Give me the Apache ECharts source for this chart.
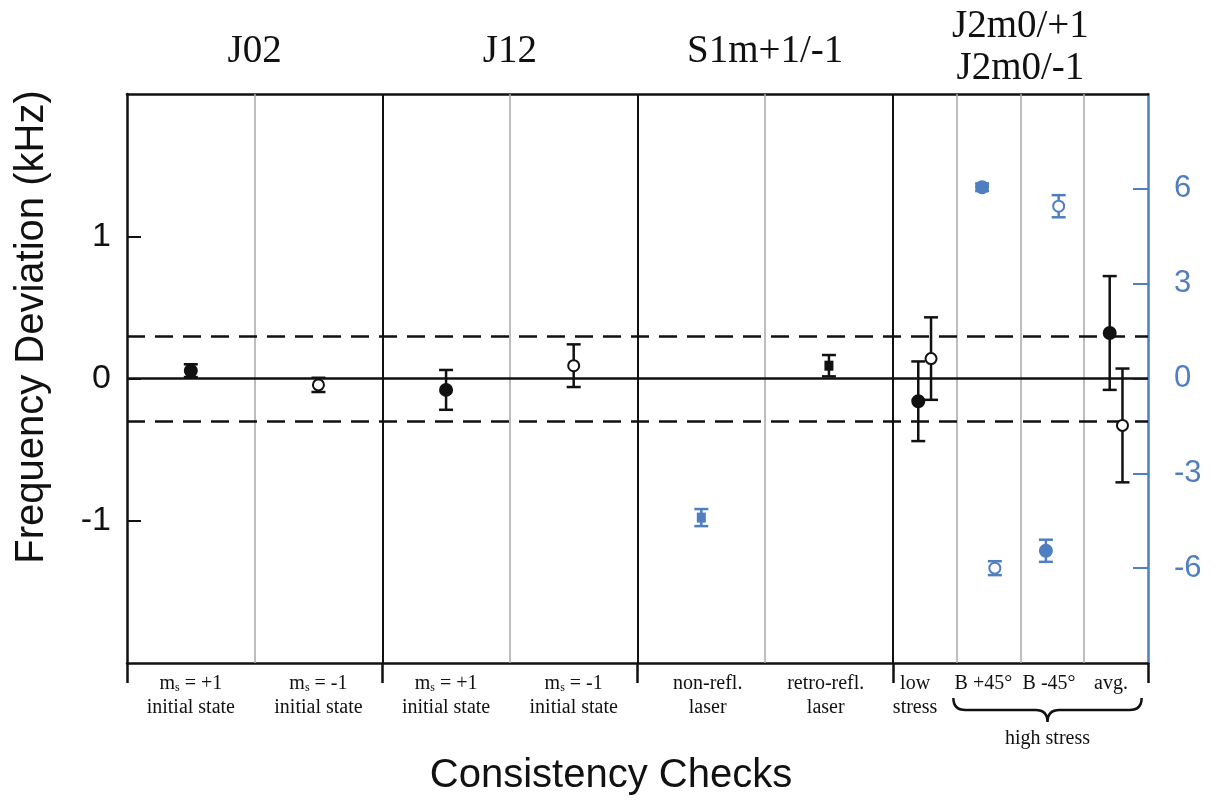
<!DOCTYPE html>
<html>
<head>
<meta charset="utf-8">
<script src="https://cdn.jsdelivr.net/npm/echarts@6/dist/echarts.min.js"></script>
<style>
  html, body { margin: 0; padding: 0; background: #fff; }
  #chart { width: 1217px; height: 803px; }
</style>
</head>
<body>
<div id="chart"></div>
<script>
// Group headings above the plot and the x-scale centre of each group
const sectionTitles = [['J02'], ['J12'], ['S1m+1/-1'], ['J2m0/+1', 'J2m0/-1']];
const sectionCenters = [2, 6, 10, 14];
// Heavy separators between groups, thin separators between individual checks
const sectionBounds = [4, 8, 12];
const subBounds = [2, 6, 10, 13, 14, 15];

// Tick values shown on the two vertical scales
const leftTicks = [-1, 0, 1];
const rightTicks = [-6, -3, 0, 3, 6];

// Check names under the axis: [x, first line, second line]
const checkLabels = [
  [1, 'm{s|s} = +1', 'initial state'],
  [3, 'm{s|s} = -1', 'initial state'],
  [5, 'm{s|s} = +1', 'initial state'],
  [7, 'm{s|s} = -1', 'initial state'],
  [9.1, 'non-refl.', 'laser'],
  [10.95, 'retro-refl.', 'laser'],
  [12.35, 'low', 'stress'],
  [13.42, 'B +45°', ''],
  [14.45, 'B -45°', ''],
  [15.42, 'avg.', '']
];
const braceSpan = [12.95, 15.9];
const braceLabel = 'high stress';

// Deviations read on the left (kHz) scale: [x, value, error, filled, square]
const kHzPoints = [
  [1, 0.055, 0.045, 1, 0],
  [3, -0.045, 0.05, 0, 0],
  [5, -0.08, 0.14, 1, 0],
  [7, 0.09, 0.15, 0, 0],
  [11, 0.09, 0.075, 1, 1],
  [12.4, -0.16, 0.28, 1, 0],
  [12.6, 0.14, 0.29, 0, 0],
  [15.4, 0.32, 0.40, 1, 0],
  [15.6, -0.33, 0.40, 0, 0]
];
// Deviations read on the right-hand scale
const rightPoints = [
  [9, -4.4, 0.27, 1, 1],
  [13.4, 6.05, 0.12, 1, 0],
  [13.6, -6.0, 0.22, 0, 0],
  [14.4, -5.45, 0.35, 1, 0],
  [14.6, 5.45, 0.35, 0, 0]
];
const toleranceBand = 0.3;

const BLUE = '#4f7fc0';
const INK = '#111';
const SANS = '"Liberation Sans", Arial, sans-serif';
const SERIF = '"Liberation Serif", "Times New Roman", serif';

function errorBarItem(color) {
  return function (params, api) {
    const x = api.value(0), y = api.value(1), e = api.value(2);
    const filled = api.value(3) === 1, square = api.value(4) === 1;
    const c = api.coord([x, y]);
    const t = api.coord([x, y + e]);
    const b = api.coord([x, y - e]);
    const w = 7;
    const ls = { stroke: color, lineWidth: 2.5 };
    const children = [
      { type: 'line', shape: { x1: c[0], y1: t[1], x2: c[0], y2: b[1] }, style: ls },
      { type: 'line', shape: { x1: c[0] - w, y1: t[1], x2: c[0] + w, y2: t[1] }, style: ls },
      { type: 'line', shape: { x1: c[0] - w, y1: b[1], x2: c[0] + w, y2: b[1] }, style: ls }
    ];
    if (square) {
      children.push({ type: 'rect', shape: { x: c[0] - 4.5, y: c[1] - 5, width: 9, height: 10 },
        style: { fill: color } });
    } else {
      children.push({ type: 'circle', shape: { cx: c[0], cy: c[1], r: filled ? 6 : 5.5 },
        style: { fill: filled ? color : '#fff', stroke: color, lineWidth: 2 } });
    }
    return { type: 'group', children };
  };
}

const chart = echarts.init(document.getElementById('chart'));

const lineMarks = [];
sectionBounds.forEach(v => lineMarks.push({ xAxis: v, lineStyle: { color: INK, width: 2, type: 'solid' } }));
subBounds.forEach(v => lineMarks.push({ xAxis: v, lineStyle: { color: '#a8a8a8', width: 1.5, type: 'solid' } }));
lineMarks.push({ yAxis: 0, lineStyle: { color: INK, width: 2.5, type: 'solid' } });
lineMarks.push({ yAxis: toleranceBand, lineStyle: { color: INK, width: 2.5, type: [18, 10] } });
lineMarks.push({ yAxis: -toleranceBand, lineStyle: { color: INK, width: 2.5, type: [18, 10] } });

chart.setOption({
  animation: false,
  backgroundColor: '#fff',
  grid: { left: 127, right: 69, top: 94, bottom: 140, containLabel: false },
  xAxis: [
    {
      type: 'value', min: 0, max: 16, interval: 4, position: 'bottom',
      axisLine: { show: true, onZero: false, lineStyle: { color: INK, width: 2.5 } },
      axisTick: { show: true, inside: false, length: 20, lineStyle: { color: INK, width: 2.5 } },
      axisLabel: { show: false },
      splitLine: { show: false }
    },
    {
      type: 'value', min: 0, max: 16, position: 'top',
      axisLine: { show: true, onZero: false, lineStyle: { color: INK, width: 2.5 } },
      axisTick: { show: false }, axisLabel: { show: false }, splitLine: { show: false }
    }
  ],
  yAxis: [
    {
      type: 'value', min: -2, max: 2, interval: 1, position: 'left',
      axisLine: { show: true, onZero: false, lineStyle: { color: INK, width: 2.5 } },
      axisTick: { show: true, inside: true, length: 14, customValues: leftTicks,
        lineStyle: { color: INK, width: 2 } },
      axisLabel: {
        margin: 16, fontSize: 34, color: INK, fontFamily: SANS, customValues: leftTicks,
        formatter: v => (Math.abs(v) === 2 ? '' : String(v))
      },
      splitLine: { show: false }
    },
    {
      type: 'value', min: -9, max: 9, interval: 3, position: 'right',
      axisLine: { show: true, onZero: false, lineStyle: { color: BLUE, width: 2.5 } },
      axisTick: { show: true, inside: true, length: 15, customValues: rightTicks,
        lineStyle: { color: BLUE, width: 2 } },
      axisLabel: {
        margin: 26, fontSize: 31, color: BLUE, fontFamily: SANS, customValues: rightTicks,
        formatter: v => (Math.abs(v) === 9 ? '' : String(v))
      },
      splitLine: { show: false }
    }
  ],
  graphic: [
    {
      type: 'text', x: 32, y: 327, rotation: Math.PI / 2,
      style: { text: 'Frequency Deviation (kHz)', fontSize: 40, fontFamily: SANS, fill: INK,
        align: 'center', verticalAlign: 'middle' }
    },
    {
      type: 'text', x: 611, y: 776,
      style: { text: 'Consistency Checks', fontSize: 40, fontFamily: SANS, fill: INK,
        align: 'center', verticalAlign: 'middle' }
    }
  ],
  series: [
    {
      type: 'line', xAxisIndex: 0, yAxisIndex: 0, data: [[0, 0]], symbol: 'none',
      lineStyle: { opacity: 0 }, silent: true, z: 1,
      markLine: { silent: true, symbol: 'none', label: { show: false }, data: lineMarks }
    },
    {
      type: 'custom', xAxisIndex: 0, yAxisIndex: 0, z: 5, clip: false,
      data: kHzPoints, encode: { x: 0, y: 1 },
      renderItem: errorBarItem(INK)
    },
    {
      type: 'custom', xAxisIndex: 0, yAxisIndex: 1, z: 5, clip: false,
      data: rightPoints, encode: { x: 0, y: 1 },
      renderItem: errorBarItem(BLUE)
    },
    {
      // group headings above the frame
      type: 'custom', xAxisIndex: 0, yAxisIndex: 0, clip: false, silent: true,
      data: sectionCenters.map(c => [c, 2]),
      renderItem: function (params, api) {
        const p = api.coord([api.value(0), api.value(1)]);
        const lines = sectionTitles[params.dataIndex];
        const offsets = lines.length === 1 ? [-42] : [-67, -25];
        return {
          type: 'group',
          children: lines.map((txt, i) => ({
            type: 'text', x: p[0], y: p[1] + offsets[i],
            style: { text: txt, fontSize: 39, fontFamily: SERIF, fill: INK,
              align: 'center', verticalAlign: 'middle' }
          }))
        };
      }
    },
    {
      // check names below the axis
      type: 'custom', xAxisIndex: 0, yAxisIndex: 0, clip: false, silent: true,
      data: checkLabels.map(l => [l[0], -2]),
      renderItem: function (params, api) {
        const p = api.coord([api.value(0), api.value(1)]);
        const lab = checkLabels[params.dataIndex];
        const rich = {
          s: { fontSize: 12, fontFamily: SERIF, fill: INK, verticalAlign: 'bottom', padding: [6, 0, 0, 0] }
        };
        const children = [
          { type: 'text', x: p[0], y: p[1] + 21,
            style: { text: lab[1], rich, fontSize: 20, fontFamily: SERIF, fill: INK,
              align: 'center', verticalAlign: 'middle' } }
        ];
        if (lab[2]) {
          children.push({ type: 'text', x: p[0], y: p[1] + 45,
            style: { text: lab[2], fontSize: 20, fontFamily: SERIF, fill: INK,
              align: 'center', verticalAlign: 'middle' } });
        }
        return { type: 'group', children };
      }
    },
    {
      // curly brace grouping the high-stress checks
      type: 'custom', xAxisIndex: 0, yAxisIndex: 0, clip: false, silent: true,
      data: [[braceSpan[0], -2, braceSpan[1]]],
      renderItem: function (params, api) {
        const a = api.coord([api.value(0), api.value(1)]);
        const b = api.coord([api.value(2), api.value(1)]);
        const x0 = a[0], x1 = b[0], xc = (x0 + x1) / 2;
        const y0 = a[1] + 35, y1 = a[1] + 47, y2 = a[1] + 59, r = 12;
        const d = `M${x0} ${y0} Q${x0} ${y1} ${x0 + r} ${y1} L${xc - r} ${y1} Q${xc} ${y1} ${xc} ${y2} ` +
                  `Q${xc} ${y1} ${xc + r} ${y1} L${x1 - r} ${y1} Q${x1} ${y1} ${x1} ${y0}`;
        return {
          type: 'group',
          children: [
            { type: 'path', shape: { pathData: d }, style: { fill: 'none', stroke: INK, lineWidth: 2.5 } },
            { type: 'text', x: xc, y: a[1] + 76,
              style: { text: braceLabel, fontSize: 20, fontFamily: SERIF, fill: INK,
                align: 'center', verticalAlign: 'middle' } }
          ]
        };
      }
    }
  ]
});
</script>
</body>
</html>
